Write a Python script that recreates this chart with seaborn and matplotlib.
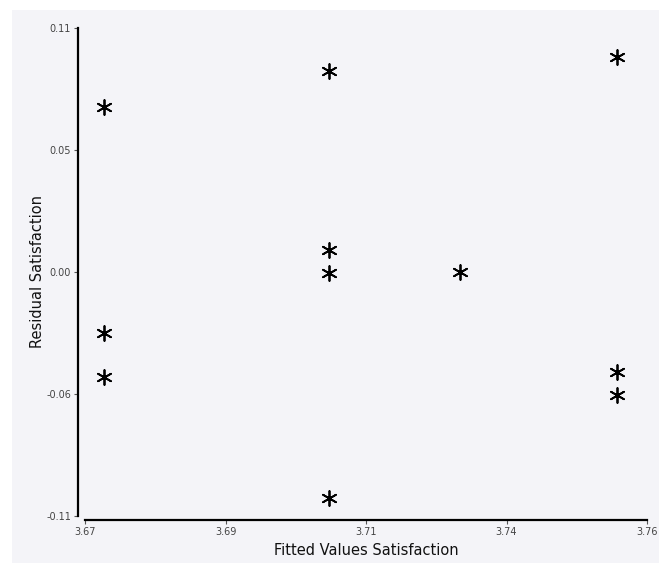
import matplotlib
matplotlib.use("Agg")
import matplotlib.pyplot as plt
import seaborn as sns
import pandas as pd
from matplotlib.patches import Rectangle

# ------------------- Data -------------------
fitted = [3.6730, 3.6730, 3.6730,
          3.7091, 3.7091, 3.7091, 3.7091,
          3.7301,
          3.7552, 3.7552, 3.7552]
residual = [0.0744, -0.0275, -0.0473,
            0.0906, 0.0099, -0.0004, -0.1019,
            0.0000,
            0.0969, -0.0451, -0.0554]

x_ticks = [3.67, 3.6925, 3.715, 3.7375, 3.76]
x_tick_labels = ["3.67", "3.69", "3.71", "3.74", "3.76"]
y_ticks = [0.11, 0.055, 0.0, -0.055, -0.11]
y_tick_labels = ["0.11", "0.05", "0.00", "-0.06", "-0.11"]

df = pd.DataFrame({"Fitted": fitted, "Residual": residual})

# ------------------- Plot -------------------
sns.set_style("white")
plt.rcParams["font.family"] = ["DejaVu Sans"]

bg = "#f4f4f8"
W, H = 659, 563
fig = plt.figure(figsize=(W / 100, H / 100), dpi=100, facecolor="white")
# light grey panel behind everything (white strip on left / top as in the reference)
fig.patches.append(Rectangle((12 / W, 0), 1, 1 - 10 / H, transform=fig.transFigure,
                             facecolor=bg, edgecolor="none", zorder=-10))

ax = fig.add_axes([85 / W, (H - 516) / H, (647 - 85) / W, (516 - 28) / H])
ax.set_facecolor(bg)

sns.scatterplot(data=df, x="Fitted", y="Residual", marker=(6, 2, 0), s=115,
                color="black", linewidth=1.3, ax=ax, clip_on=False)

ax.set_xlim(3.67, 3.76)
ax.set_ylim(-0.11, 0.11)
ax.set_xticks(x_ticks)
ax.set_xticklabels(x_tick_labels)
ax.set_yticks(y_ticks)
ax.set_yticklabels(y_tick_labels)

for side in ["top", "right"]:
    ax.spines[side].set_visible(False)
ax.spines["left"].set_position(("outward", 5))
ax.spines["bottom"].set_position(("outward", 3))
for side in ["left", "bottom"]:
    ax.spines[side].set_linewidth(1.6)
    ax.spines[side].set_color("black")

ax.tick_params(axis="both", which="major", length=3, width=0.8, color="#555555",
               labelsize=7, labelcolor="#444444", pad=2, bottom=True, left=True)

ax.set_xlabel("Fitted Values Satisfaction", fontsize=10.5, color="#111111", labelpad=4)
ax.set_ylabel("Residual Satisfaction", fontsize=10.5, color="#111111", labelpad=1)

fig.savefig("out.png", dpi=100, facecolor=fig.get_facecolor())
